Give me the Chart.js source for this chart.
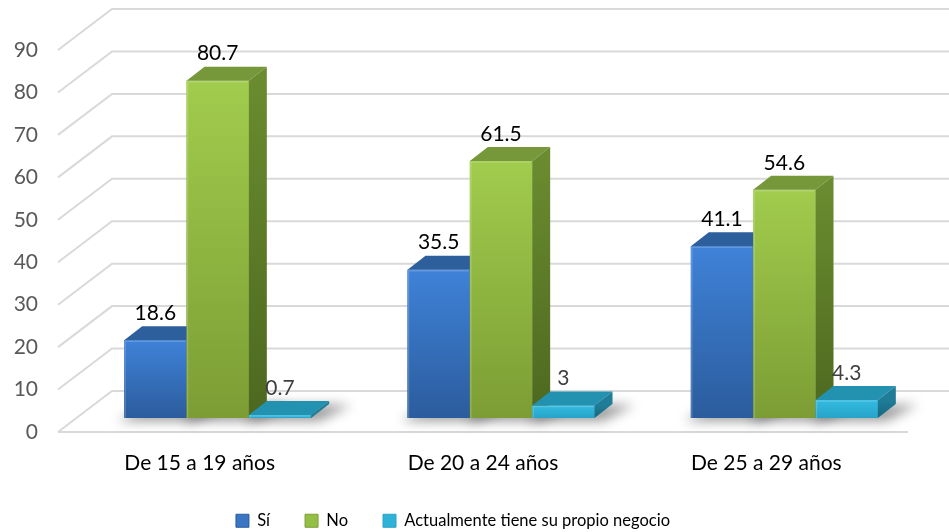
<!DOCTYPE html>
<html>
<head>
<meta charset="utf-8">
<script src="https://cdn.jsdelivr.net/npm/chart.js@4.4.1/dist/chart.umd.min.js"></script>
<style>
  html, body { margin: 0; padding: 0; background: #ffffff; }
  #c { display: block; }
</style>
</head>
<body>
<canvas id="c" width="949" height="532"></canvas>
<script>
// Categories, series and axis ticks
const categories = ['De 15 a 19 años', 'De 20 a 24 años', 'De 25 a 29 años'];
const seriesNames = ['Sí', 'No', 'Actualmente tiene su propio negocio'];
const siValues = [18.6, 35.5, 41.1];
const noValues = [80.7, 61.5, 54.6];
const negocioValues = [0.7, 3, 4.3];
const yTicks = [0, 10, 20, 30, 40, 50, 60, 70, 80, 90];

const FONT = 'Lato, "Open Sans", sans-serif';

// Oblique projection: depth of each bar, and position of front edge / back wall
const BAR_DX = 18, BAR_DY = -14;
const FRONT_DX = -18;
const WALL_DX = 54, WALL_DY = -41;

const palette = [
  { front: ['#3f82d8', '#2b5c9d'], top: '#2e5f9d', side: ['#2a5690', '#1e3f6c'], legend: '#3a76c4', label: '#000000' },
  { front: ['#a1cc4d', '#7c9d34'], top: '#77983a', side: ['#6a8b2f', '#4d681f'], legend: '#94bf45', label: '#000000' },
  { front: ['#33bbe0', '#27a3c8'], top: '#2391b0', side: ['#1f7d98', '#186680'], legend: '#2fb2d8', label: '#404040' }
];

function frontFill(i) {
  return (c) => {
    const p = palette[i];
    const ys = c.chart.scales && c.chart.scales.y;
    if (c.type !== 'data' || !ys || !c.parsed || ys.bottom === undefined) return p.front[0];
    const top = ys.getPixelForValue(c.parsed.y);
    const bot = ys.getPixelForValue(0);
    if (!isFinite(top) || !isFinite(bot) || top === bot) return p.front[0];
    const g = c.chart.ctx.createLinearGradient(0, top, 0, bot);
    g.addColorStop(0, p.front[0]);
    g.addColorStop(1, p.front[1]);
    return g;
  };
}

function barBox(el) {
  const p = el.getProps(['x', 'y', 'base', 'width'], true);
  return { l: p.x - p.width / 2, r: p.x + p.width / 2, t: Math.min(p.y, p.base), b: Math.max(p.y, p.base), cx: p.x };
}

function poly(ctx, pts, fill) {
  ctx.beginPath();
  ctx.moveTo(pts[0][0], pts[0][1]);
  for (let k = 1; k < pts.length; k++) ctx.lineTo(pts[k][0], pts[k][1]);
  ctx.closePath();
  ctx.fillStyle = fill;
  ctx.fill();
}

const depthPlugin = {
  id: 'depth3d',
  beforeDatasetsDraw(chart) {
    const { ctx, scales: { x, yf } } = chart;
    const x0 = x.left + FRONT_DX, x1 = x.right + FRONT_DX;
    ctx.save();
    // wall gridlines
    ctx.strokeStyle = '#d9d9d9';
    ctx.lineWidth = 2;
    yTicks.forEach(v => {
      const py = yf.getPixelForValue(v);
      ctx.beginPath();
      ctx.moveTo(x0, py);
      ctx.lineTo(x0 + WALL_DX, py + WALL_DY);
      ctx.lineTo(x1 + WALL_DX + 40, py + WALL_DY);
      ctx.stroke();
    });
    // floor front edge
    const pz = yf.getPixelForValue(0);
    ctx.beginPath();
    ctx.moveTo(x0, pz);
    ctx.lineTo(x1, pz);
    ctx.stroke();
    // soft floor shadows under the bars
    ctx.filter = 'blur(6px)';
    chart.data.datasets.forEach((ds, di) => {
      chart.getDatasetMeta(di).data.forEach(el => {
        const b = barBox(el);
        poly(ctx, [
          [b.l - 6, b.b + 3],
          [b.r + 8, b.b + 3],
          [b.r + BAR_DX + 22, b.b + BAR_DY + 1],
          [b.l + BAR_DX + 4, b.b + BAR_DY + 1]
        ], 'rgba(0,0,0,0.4)');
      });
    });
    ctx.filter = 'none';
    ctx.restore();
  },
  afterDatasetsDraw(chart) {
    const { ctx } = chart;
    ctx.save();
    // series drawn left to right so every bar covers the side of its left neighbour
    chart.data.datasets.forEach((ds, di) => {
      const p = palette[di];
      chart.getDatasetMeta(di).data.forEach(el => {
        const b = barBox(el);
        el.draw(ctx);
        // top face
        poly(ctx, [[b.l, b.t], [b.l + BAR_DX, b.t + BAR_DY], [b.r + BAR_DX, b.t + BAR_DY], [b.r, b.t]], p.top);
        // right side face
        const g = ctx.createLinearGradient(0, b.t, 0, b.b);
        g.addColorStop(0, p.side[0]);
        g.addColorStop(1, p.side[1]);
        poly(ctx, [[b.r, b.t], [b.r + BAR_DX, b.t + BAR_DY], [b.r + BAR_DX, b.b + BAR_DY], [b.r, b.b]], g);
        // subtle highlight along the front edges
        ctx.strokeStyle = 'rgba(255,255,255,0.18)';
        ctx.lineWidth = 1.5;
        ctx.beginPath();
        ctx.moveTo(b.l + 1, b.b);
        ctx.lineTo(b.l + 1, b.t + 1);
        ctx.lineTo(b.r - 1, b.t + 1);
        ctx.stroke();
      });
    });
    // value labels
    ctx.font = '21px ' + FONT;
    ctx.textAlign = 'center';
    ctx.textBaseline = 'middle';
    chart.data.datasets.forEach((ds, di) => {
      chart.getDatasetMeta(di).data.forEach((el, i) => {
        const b = barBox(el);
        ctx.fillStyle = palette[di].label;
        ctx.fillText(String(ds.data[i]), b.cx, b.t + BAR_DY - 13);
      });
    });
    ctx.restore();
  }
};

const seriesValues = [siValues, noValues, negocioValues];

new Chart(document.getElementById('c'), {
  type: 'bar',
  data: {
    labels: categories,
    datasets: seriesNames.map((name, i) => ({
      label: name,
      data: seriesValues[i],
      yAxisID: 'y',
      backgroundColor: frontFill(i),
      borderWidth: 0,
      barPercentage: 1,
      categoryPercentage: 0.66
    }))
  },
  options: {
    responsive: false,
    animation: false,
    events: [],
    layout: { autoPadding: false, padding: { top: 8, left: -20, right: 23, bottom: -7 } },
    scales: {
      x: {
        grid: { display: false, drawTicks: false },
        border: { display: false },
        afterFit: s => { s.height = 45.5; s.paddingLeft = 0; s.paddingRight = 0; },
        ticks: { padding: 19, labelOffset: FRONT_DX, color: '#000000', font: { family: FONT, size: 21 } }
      },
      // bars stand on a floor plane set back from the front edge
      y: {
        display: false,
        min: -3.35,
        max: 98.1
      },
      // front edge of the floor carries the tick labels
      yf: {
        position: 'left',
        min: 0,
        max: 99.9,
        afterBuildTicks: s => { s.ticks = yTicks.map(v => ({ value: v })); },
        afterFit: s => { s.width = 96; s.paddingTop = 0; s.paddingBottom = 0; },
        grid: { display: false, drawTicks: false },
        border: { display: false },
        ticks: { padding: 38, color: '#595959', font: { family: FONT, size: 21 } }
      }
    },
    plugins: {
      tooltip: { enabled: false },
      legend: {
        position: 'bottom',
        labels: {
          boxWidth: 13,
          boxHeight: 13,
          padding: 35,
          color: '#000000',
          font: { family: FONT, size: 16.5 },
          generateLabels: () => seriesNames.map((n, i) => ({
            text: n,
            fillStyle: palette[i].legend,
            strokeStyle: palette[i].front[1],
            lineWidth: 1,
            hidden: false,
            datasetIndex: i
          }))
        }
      }
    }
  },
  plugins: [depthPlugin]
});
</script>
</body>
</html>
